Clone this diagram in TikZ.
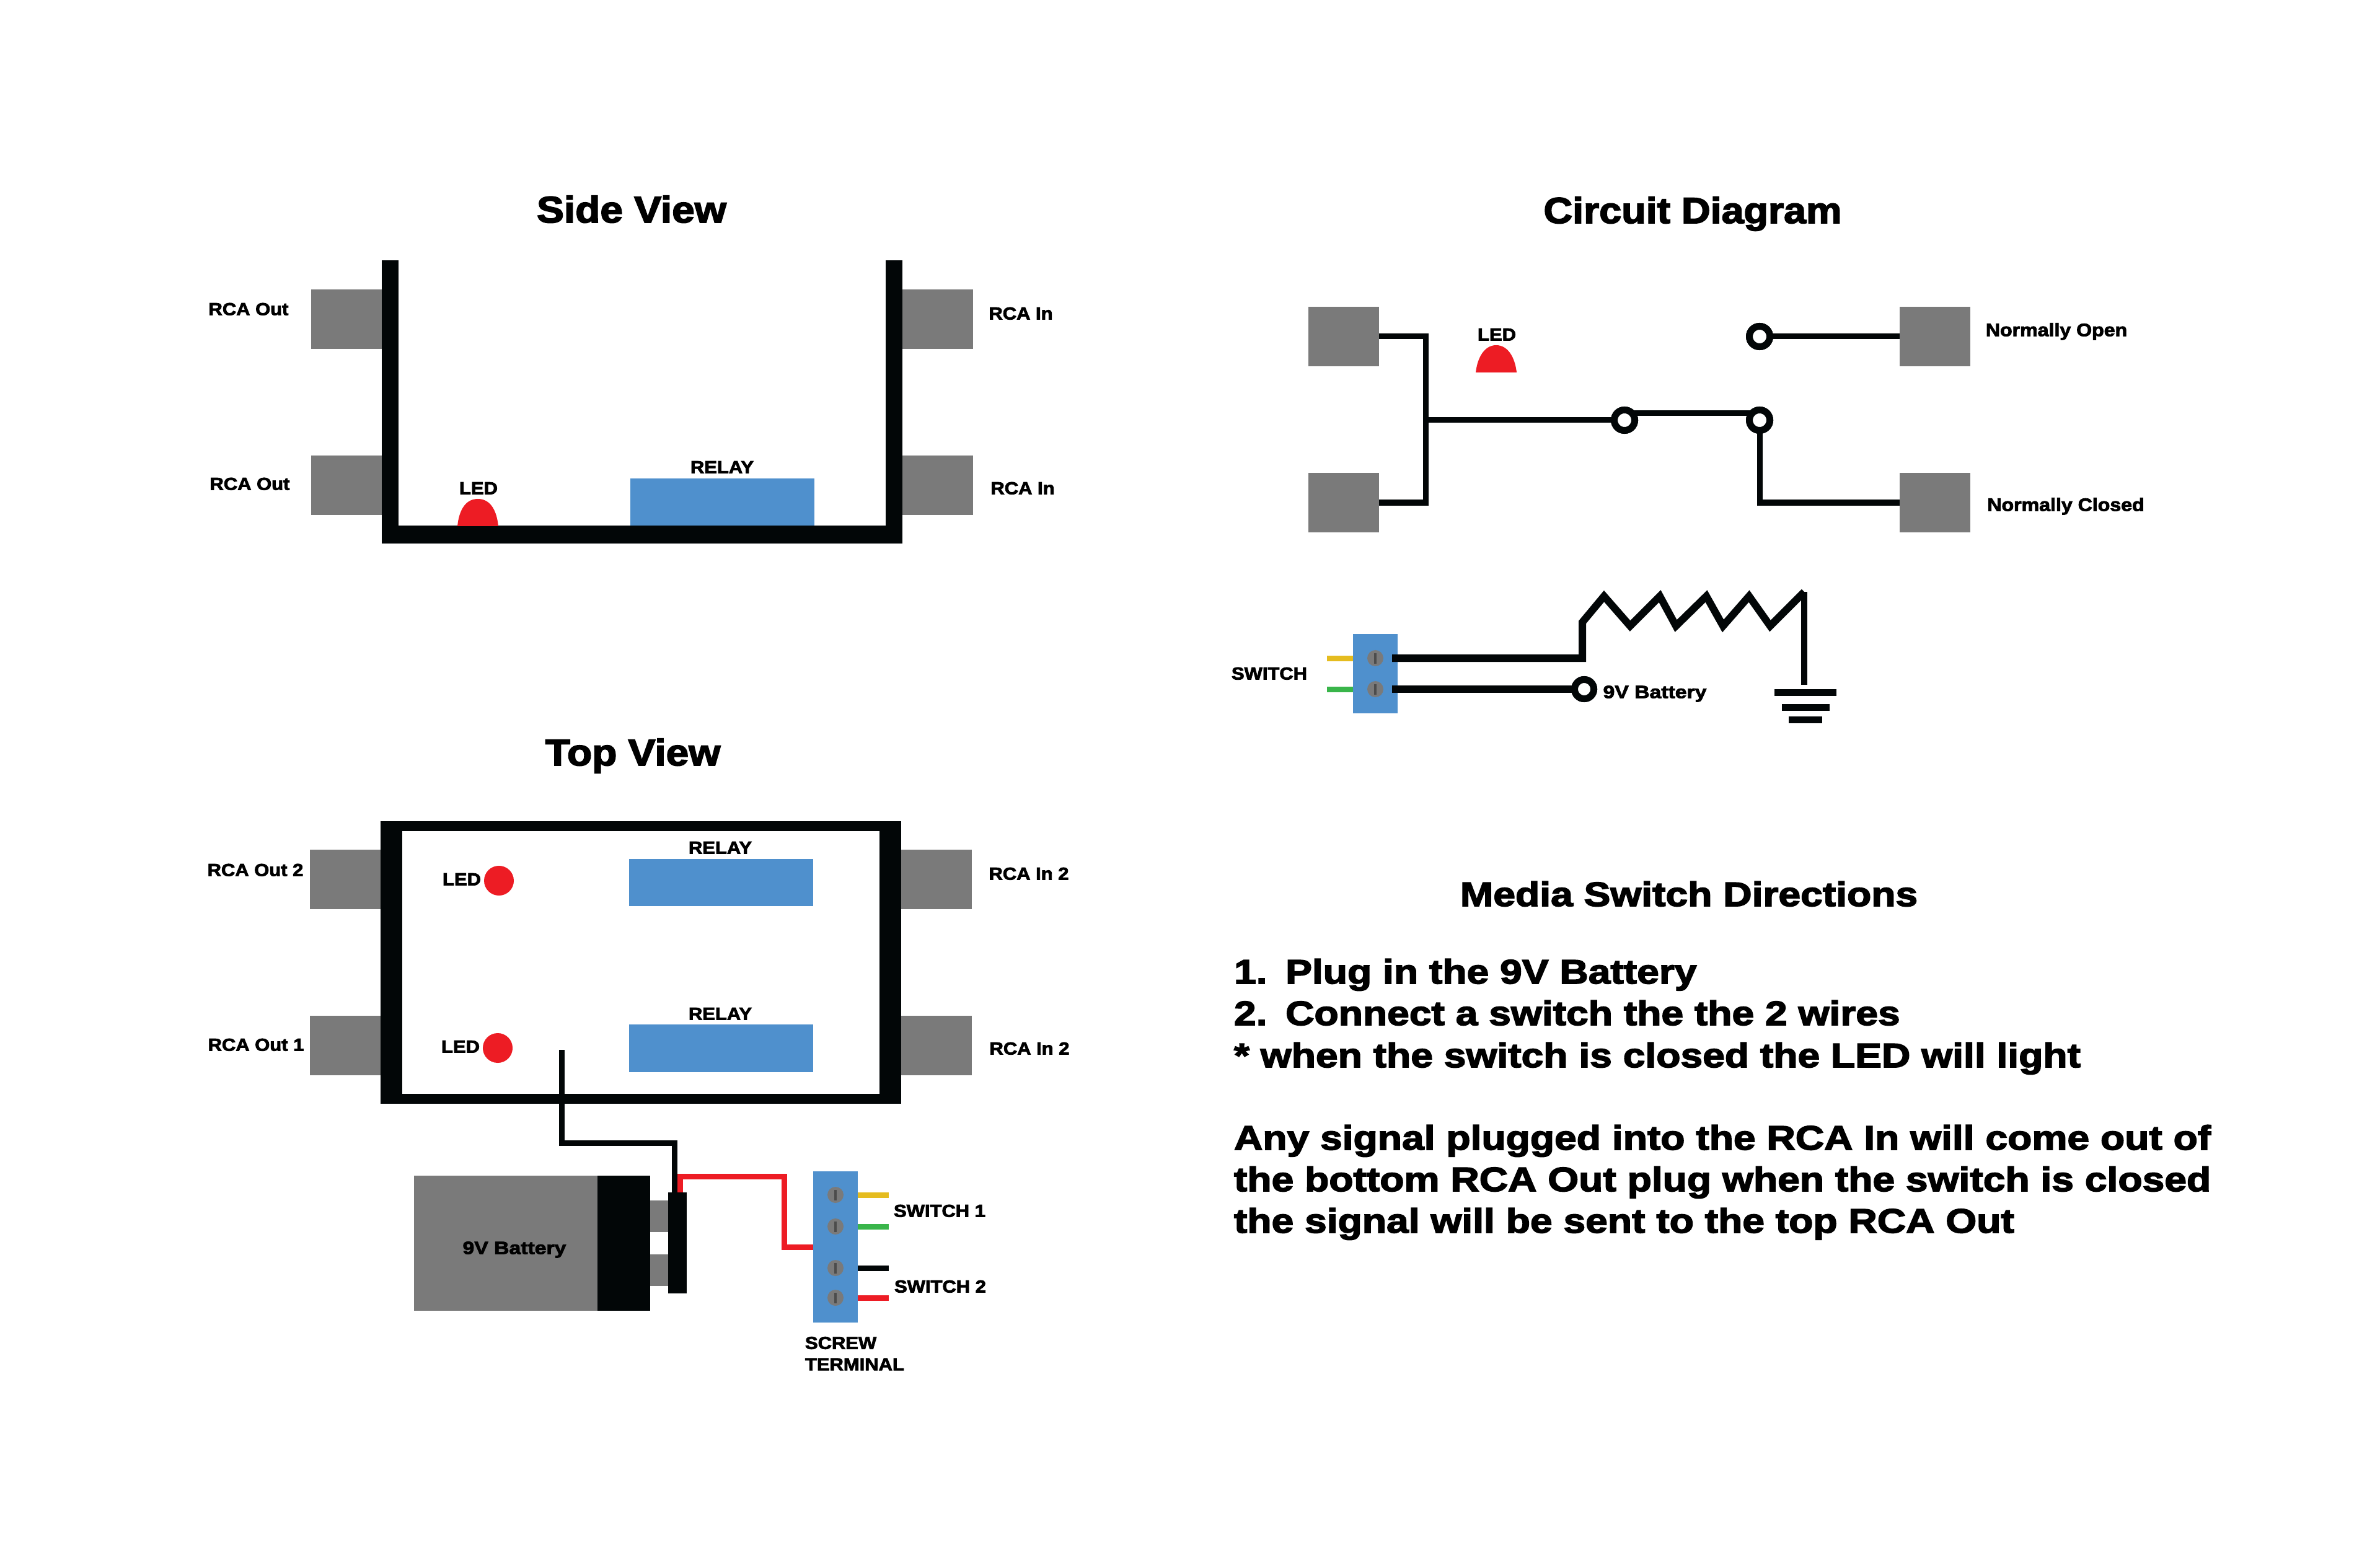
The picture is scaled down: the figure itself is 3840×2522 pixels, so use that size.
\documentclass[tikz,border=0pt]{standalone}
\usepackage{xcolor}
\usepackage{fontspec}
\setmainfont[UprightFont=* Bold,FakeBold=3,FakeStretch=1.1]{Liberation Sans}
\newfontfamily\widefont[UprightFont=* Bold,FakeBold=3,FakeStretch=1.17]{Liberation Sans}
\usetikzlibrary{positioning}
\definecolor{plugc}{HTML}{7A7A7A}
\definecolor{relayc}{HTML}{4F90CD}
\definecolor{ledc}{HTML}{ED1C24}
\definecolor{blackc}{HTML}{020607}
\definecolor{yellowc}{HTML}{E5BC1F}
\definecolor{greenc}{HTML}{39B54A}
\tikzset{
    every node/.style={inner sep=0pt, outer sep=0pt}, % sizes below are the filled areas
    plug/.style={fill=plugc, minimum width=1.14cm, minimum height=.96cm},
    relaybox/.style={fill=relayc, minimum width=2.96cm, minimum height=.76cm},
    ledtop/.style={circle, fill=ledc, minimum size=.48cm},
    pole/.style={circle, draw=blackc, line width=.11cm, fill=white, minimum size=.33cm},
    screw/.style={circle, fill=plugc, minimum size=.26cm, path picture={
        \fill[black!70] (path picture bounding box.center) ++(-2,-8.5) rectangle ++(4,17);}},
    wire/.style={draw=blackc, line width=.09cm},
    bigwire/.style={draw=blackc, line width=.12cm},
    title/.style={font=\fontsize{17}{20}\selectfont, text height=.42cm, text depth=0pt},
    lbl/.style={font=\fontsize{8}{9}\selectfont, text height=.21cm, text depth=0pt},
    dirline/.style={font=\widefont\fontsize{15.6}{19}\selectfont, anchor=base west},
}
\begin{document}
\begin{tikzpicture}[x=.01cm, y=-.01cm]
    \useasboundingbox (0,0) rectangle (3840,2522);

    % Side View
    \node[title] (sidet) at (1019,338) {Side View};
    \node[plug] (so1) at (559,515) {};
    \node[plug] (so2) at (559,783) {};
    \node[plug] (si1) at (1513,515) {};
    \node[plug] (si2) at (1513,783) {};
    \fill[blackc] (616,420) rectangle (643,877);
    \fill[blackc] (1429,420) rectangle (1456,877);
    \fill[blackc] (616,848) rectangle (1456,877);
    \node[relaybox] (srel) at (1165.5,810) {};
    \fill[ledc] (738,849) .. controls (741,820) and (753,805) .. (771,805)
        .. controls (789,805) and (801,820) .. (804,849) -- cycle;
    \node[lbl] (so1t) at (401,498) {RCA Out};
    \node[lbl] (so2t) at (403,780) {RCA Out};
    \node[lbl] (si1t) at (1647,505) {RCA In};
    \node[lbl] (si2t) at (1650,787) {RCA In};
    \node[lbl] (srelt) at (1165,753) {RELAY};
    \node[lbl] (sledt) at (772,787) {LED};

    % Top View
    \node[title] (topt) at (1021,1214) {Top View};
    \node[plug] (to2) at (557,1419) {};
    \node[plug] (to1) at (557,1687) {};
    \node[plug] (ti2) at (1511,1419) {};
    \node[plug] (ti1) at (1511,1687) {};
    \fill[blackc] (614,1325) rectangle (1454,1781);
    \fill[white] (649,1341) rectangle (1419,1765);
    \node[relaybox] (trel2) at (1163.5,1424) {};
    \node[relaybox] (trel1) at (1163.5,1691.5) {};
    \node[ledtop] (tled2) at (805,1421) {};
    \node[ledtop] (tled1) at (803,1691) {};
    \node[lbl] (to2t) at (412,1403) {RCA Out 2};
    \node[lbl] (to1t) at (413,1685) {RCA Out 1};
    \node[lbl] (ti2t) at (1660,1409) {RCA In 2};
    \node[lbl] (ti1t) at (1661,1691) {RCA In 2};
    \node[lbl] (trel2t) at (1162,1367) {RELAY};
    \node[lbl] (trel1t) at (1162,1635) {RELAY};
    \node[lbl] (tled2t) at (745,1418) {LED};
    \node[lbl] (tled1t) at (743,1688) {LED};

    % Battery and screw terminal
    \node[fill=plugc, minimum width=.29cm, minimum height=.51cm] (stud1) at (1063.5,1962.5) {};
    \node[fill=plugc, minimum width=.29cm, minimum height=.51cm] (stud2) at (1063.5,2049.5) {};
    \node[fill=plugc, minimum width=2.96cm, minimum height=2.18cm] (batt) at (816,2006) {};
    \node[fill=blackc, minimum width=.85cm, minimum height=2.18cm] (cap) at (1006.5,2006) {};
    \node[fill=blackc, minimum width=.3cm, minimum height=1.63cm] (conn) at (1093,2005.5) {};
    \node[fill=relayc, minimum width=.72cm, minimum height=2.44cm] (term) at (1348,2012) {};
    \node[screw] (sc1) at (1348,1928) {};
    \node[screw] (sc2) at (1348,1979) {};
    \node[screw] (sc3) at (1348,2046) {};
    \node[screw] (sc4) at (1348,2094) {};
    \coordinate (wiretop) at (906,1694);
    \coordinate (wireknee) at (1088,1844);
    \coordinate (redtop) at (1097.5,1898);
    \coordinate (redknee) at (1265.5,2012);
    \coordinate (swe1) at (1434,1928);
    \coordinate (swe2) at (1434,1979);
    \coordinate (swe3) at (1434,2046);
    \coordinate (swe4) at (1434,2094);
    \draw[wire] (wiretop) |- (wireknee) -- (wireknee |- conn.north);
    \draw[wire, draw=ledc] (redtop |- conn.north) -- (redtop) -| (redknee) -- (redknee -| term.west);
    \draw[wire, draw=yellowc] (sc1 -| term.east) -- (swe1);
    \draw[wire, draw=greenc] (sc2 -| term.east) -- (swe2);
    \draw[wire] (sc3 -| term.east) -- (swe3);
    \draw[wire, draw=ledc] (sc4 -| term.east) -- (swe4);
    \node[lbl, font=\widefont\fontsize{8.2}{9}\selectfont] (battt) at (830,2013) {9V Battery};
    \node[lbl] (sw1t) at (1516,1953) {SWITCH 1};
    \node[lbl] (sw2t) at (1517,2075) {SWITCH 2};
    \node[lbl, anchor=north west, align=left, text height=, font=\fontsize{8}{9.8}\selectfont] (termt) at (1299,2157) {SCREW\\TERMINAL};

    % Circuit Diagram
    \node[title, font=\fontsize{16.7}{20}\selectfont] (circt) at (2731,339) {Circuit Diagram};
    \node[plug] (co1) at (2168,543) {};
    \node[plug] (co2) at (2168,811) {};
    \node[plug] (cno) at (3122,543) {};
    \node[plug] (cnc) at (3122,811) {};
    \node[pole] (c1) at (2621,678) {};
    \node[pole] (c2) at (2839,678) {};
    \node[pole] (c3) at (2839,543) {};
    \coordinate (jt) at (2300,678);
    \draw[wire] (co1.east) -| (jt) |- (co2.east);
    \draw[wire] (jt) -- (c1);
    \draw[wire] (c1.45) -- (c2.135);
    \draw[wire] (c2) |- (cnc.west);
    \draw[wire] (c3) -- (cno.west);
    \node[pole] at (c1) {};
    \node[pole] at (c2) {};
    \node[pole] at (c3) {};
    \fill[ledc] (2381,601) .. controls (2384,575) and (2396,557) .. (2414,557)
        .. controls (2432,557) and (2444,575) .. (2447,601) -- cycle;
    \node[lbl] (cledt) at (2415,539) {LED};
    \node[lbl, font=\fontsize{8.3}{9}\selectfont] (cnot) at (3318,532) {Normally Open};
    \node[lbl, font=\fontsize{8.3}{9}\selectfont] (cnct) at (3333,814) {Normally Closed};

    \node[fill=relayc, minimum width=.72cm, minimum height=1.28cm] (cterm) at (2219,1087) {};
    \node[screw] (cs1) at (2219,1062) {};
    \node[screw] (cs2) at (2219,1112) {};
    \coordinate (cw1) at (2246,1062);
    \coordinate (cw2) at (2246,1112);
    \node[pole, minimum size=.31cm] (cbat) at (2556,1112) {};
    \draw[wire, draw=yellowc] (2141,1062) -- (cs1 -| cterm.west);
    \draw[wire, draw=greenc] (2141,1112) -- (cs2 -| cterm.west);
    \draw[bigwire] (cw1) -- (2553,1062) -- (2553,1004) -- (2588,962) -- (2630,1010) -- (2678,962)
        -- (2704,1010) -- (2753,962) -- (2780,1010) -- (2822,962) -- (2856,1010) -- (2911,955);
    \draw[wire, line width=.1cm] (2911,955) -- (2911,1105);
    \draw[bigwire] (cw2) -- (cbat);
    \node[pole, minimum size=.31cm] at (cbat) {};
    \node[fill=blackc, minimum width=1cm, minimum height=.11cm] (gnd1) at (2913,1117.5) {};
    \node[fill=blackc, minimum width=.77cm, minimum height=.11cm] (gnd2) at (2913,1141) {};
    \node[fill=blackc, minimum width=.54cm, minimum height=.11cm] (gnd3) at (2913,1161) {};
    \node[lbl, font=\widefont\fontsize{8.2}{9}\selectfont] (cbatt) at (2670,1116) {9V Battery};
    \node[lbl] (cswt) at (2048,1086) {SWITCH};

    % Directions
    \node[title, font=\widefont\fontsize{15.6}{19}\selectfont, text height=.38cm] (dirt) at (2725,1443) {Media Switch Directions};
    \node[dirline] (d1) at (1991,1587) {1.\hspace{.54em}Plug in the 9V Battery};
    \node[dirline] (d2) at (1991,1654) {2.\hspace{.54em}Connect a switch the the 2 wires};
    \node[dirline] (d3) at (1991,1722) {* when the switch is closed the LED will light};
    \node[dirline] (d4) at (1991,1855) {Any signal plugged into the RCA In will come out of};
    \node[dirline] (d5) at (1991,1922) {the bottom RCA Out plug when the switch is closed};
    \node[dirline] (d6) at (1991,1989) {the signal will be sent to the top RCA Out};
\end{tikzpicture}
\end{document}
